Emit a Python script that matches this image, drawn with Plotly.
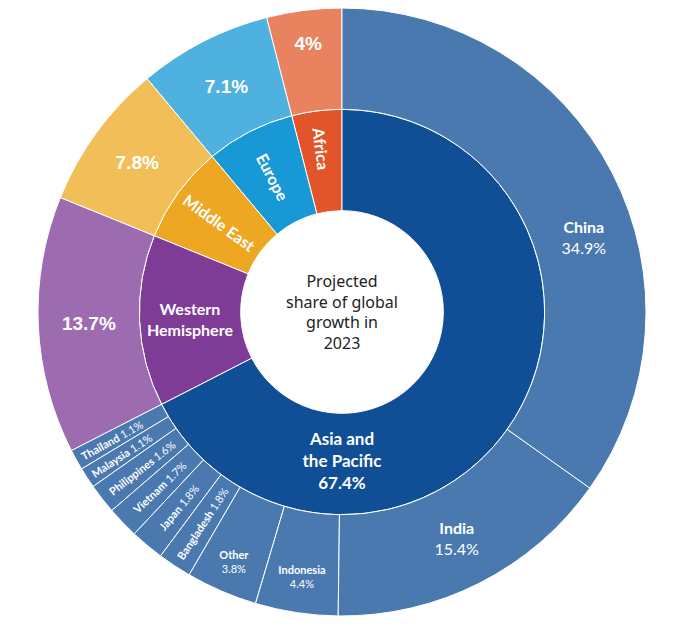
import plotly.graph_objects as go

CENTER_LABEL = "Projected<br>share of global<br>growth in<br>2023"

REGIONS = ["Africa", "Europe", "Middle East", "Western Hemisphere",
           "Asia and the Pacific"]
REGION_TEXT = ["Africa", "Europe", "Middle East", "Western<br>Hemisphere",
               "Asia and<br>the Pacific"]
REGION_SHARE = [4.0, 7.1, 7.8, 13.7, 67.4]
REGION_COLOR = ["#E2552A", "#1899D6", "#EEA723", "#7E3C96", "#104E96"]
OUTER_COLOR = ["#E8825F", "#4EB1E0", "#F2BE58", "#9C6BB0", "#4A79AF"]

ASIA = ["Thailand", "Malaysia", "Philippines", "Vietnam", "Japan",
        "Bangladesh", "Other", "Indonesia", "India", "China"]
ASIA_SHARE = [1.1, 1.1, 1.6, 1.7, 1.8, 1.8, 3.8, 4.4, 15.4, 34.9]

FONT = "Lato, 'Noto Sans', sans-serif"
BOLD = "'Liberation Sans', Arial, sans-serif"
ROT = 90
# labels whose text is swung round the centre a little (degrees, ccw)
NUDGE = {"asia-China": -10}
ORIENT = {"h": "horizontal", "r": "radial", "a": "auto"}

ids, labels, parents, values, colors = [], [], [], [], []
texts, orients = [], []
fsize, fcolor, ffam = [], [], []


def add(i, lab, par, val, col, txt, orient, size, color="white", fam=FONT):
    ids.append(i); labels.append(lab); parents.append(par)
    values.append(val); colors.append(col)
    texts.append(txt); orients.append(orient)
    fsize.append(size); fcolor.append(color); ffam.append(fam)


# root = the white hole in the middle
add("root", "root", "", 0, "white", CENTER_LABEL, "h", 16, "#222222",
    "'Noto Sans', sans-serif")

for reg, rtxt, share, c_in, c_out in zip(REGIONS, REGION_TEXT, REGION_SHARE,
                                          REGION_COLOR, OUTER_COLOR):
    if reg == "Asia and the Pacific":
        add(reg, reg, "root", 0, c_in, f"<b>{rtxt}<br>{share:g}%</b>", "h", 17)
        for name, v in zip(ASIA, ASIA_SHARE):
            if v >= 10:
                add("asia-" + name, name, reg, v, c_out,
                    f"<b>{name}</b><br>{v:g}%", "h", 16)
            elif v >= 3:
                add("asia-" + name, name, reg, v, c_out,
                    f"<b>{name}</b><br>{v:g}%", "h", 11)
            else:
                add("asia-" + name, name, reg, v, c_out,
                    f"<b>{name}</b> {v:g}%", "r", 11)
    else:
        orient = "h" if reg == "Western Hemisphere" else "r"
        add(reg, reg, "root", 0, c_in, f"<b>{rtxt}</b>", orient, 16)
        add("out-" + reg, f"{share:g}%", reg, share, c_out,
            f"<b>{share:g}%</b>", "h", 19, "white", BOLD)


def layer(keep, orient, rot, fill):
    txt = [t if keep[n] else "" for n, t in enumerate(texts)]
    if fill:
        marker = dict(colors=colors, line=dict(color="white", width=1))
    else:
        marker = dict(colors=["rgba(0,0,0,0)"] * len(ids),
                      line=dict(color="rgba(0,0,0,0)", width=0))
    return go.Sunburst(
        ids=ids, labels=labels, parents=parents, values=values,
        branchvalues="remainder", sort=False, rotation=rot,
        text=txt, textinfo="text", insidetextorientation=ORIENT[orient],
        leaf=dict(opacity=1), hoverinfo="skip", marker=marker,
        textfont=dict(size=fsize, color=fcolor, family=ffam))


groups = {}
for n, (i, o) in enumerate(zip(ids, orients)):
    groups.setdefault((o, ROT + NUDGE.get(i, 0)), []).append(n)

fig = go.Figure()
fig.add_trace(layer([False] * len(ids), "h", ROT, True))   # the fills
for (o, rot), members in groups.items():
    keep = [n in members for n in range(len(ids))]
    fig.add_trace(layer(keep, o, rot, False))
fig.update_layout(
    paper_bgcolor="white", font=dict(family=FONT),
    margin=dict(l=0, r=3, t=0, b=4), width=671, height=612,
)
fig.write_html("out.html")
